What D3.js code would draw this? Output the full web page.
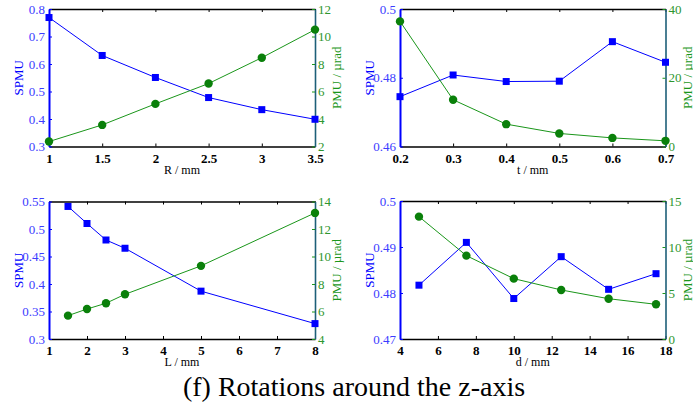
<!DOCTYPE html>
<html><head><meta charset="utf-8">
<script src="https://cdn.jsdelivr.net/npm/d3@7"></script>
<style>
html,body{margin:0;padding:0;background:#fff;}
svg{display:block;}
</style></head>
<body><svg id="c" width="693" height="406"></svg>
<script>
// Panel (a): R / mm
const rValues = [1, 1.5, 2, 2.5, 3, 3.5];
const rSPMU = [0.769, 0.631, 0.551, 0.478, 0.434, 0.399];
const rPMU = [2.36, 3.57, 5.10, 6.58, 8.46, 10.5];
const rXTicks = [1, 1.5, 2, 2.5, 3, 3.5];
const rLTicks = [0.3, 0.4, 0.5, 0.6, 0.7, 0.8];
const rRTicks = [2, 4, 6, 8, 10, 12];

// Panel (b): t / mm
const tValues = [0.2, 0.3, 0.4, 0.5, 0.6, 0.7];
const tSPMU = [0.4745, 0.4808, 0.4789, 0.4790, 0.4905, 0.4845];
const tPMU = [36.4, 13.6, 6.5, 3.8, 2.5, 1.65];
const tXTicks = [0.2, 0.3, 0.4, 0.5, 0.6, 0.7];
const tLTicks = [0.46, 0.48, 0.5];
const tRTicks = [0, 20, 40];

// Panel (c): L / mm
const lValues = [1.5, 2, 2.5, 3, 5, 8];
const lSPMU = [0.541, 0.510, 0.480, 0.465, 0.387, 0.328];
const lPMU = [5.70, 6.18, 6.60, 7.25, 9.32, 13.17];
const lXTicks = [1, 2, 3, 4, 5, 6, 7, 8];
const lLTicks = [0.3, 0.35, 0.4, 0.45, 0.5, 0.55];
const lRTicks = [4, 6, 8, 10, 12, 14];

// Panel (d): d / mm
const dValues = [5, 7.5, 10, 12.5, 15, 17.5];
const dSPMU = [0.4817, 0.4910, 0.4788, 0.4879, 0.4808, 0.4842];
const dPMU = [13.3, 9.06, 6.56, 5.33, 4.38, 3.77];
const dXTicks = [4, 6, 8, 10, 12, 14, 16, 18];
const dLTicks = [0.47, 0.48, 0.49, 0.5];
const dRTicks = [0, 5, 10, 15];

const caption = "(f) Rotations around the z-axis";

const FONT = "Liberation Serif";
const BLUE = "#0000ff", BLUE_TXT = "#3c3cff", GREEN = "#1a961a", GREEN_M = "#0a800a", GREEN_TXT = "#2e962e", RAXIS = "#1d5f78";

const svg = d3.select("#c");

function panel(o) {
  const g = svg.append("g");
  const x = d3.scaleLinear().domain(o.xDom).range([o.x0, o.x1]);
  const yl = d3.scaleLinear().domain(o.lDom).range([o.y1, o.y0]);
  const yr = d3.scaleLinear().domain(o.rDom).range([o.y1, o.y0]);

  const bottom = g.append("g").attr("transform", `translate(0,${o.y1})`)
    .call(d3.axisBottom(x).tickValues(o.xTicks).tickSizeInner(-3).tickSizeOuter(0).tickPadding(7).tickFormat(d3.format("")));
  bottom.select(".domain").attr("stroke", "#000").attr("stroke-width", 1.3);
  bottom.selectAll("text").attr("font-size", 13).attr("font-weight", "bold").attr("fill", "#000").style("font-family", FONT);
  const top = g.append("g").attr("transform", `translate(0,${o.y0})`)
    .call(d3.axisTop(x).tickValues(o.xTicks).tickSizeInner(-3).tickSizeOuter(0).tickFormat(""));
  top.select(".domain").attr("stroke", "#000").attr("stroke-width", 1.3);

  const left = g.append("g").attr("transform", `translate(${o.x0},0)`)
    .call(d3.axisLeft(yl).tickValues(o.lTicks).tickSizeInner(-3).tickSizeOuter(0).tickPadding(4).tickFormat(d3.format("")));
  left.select(".domain").attr("stroke", BLUE).attr("stroke-width", 2);
  left.selectAll(".tick line").attr("stroke", BLUE);
  left.selectAll("text").attr("font-size", 13).attr("fill", BLUE_TXT).style("font-family", FONT);

  const right = g.append("g").attr("transform", `translate(${o.x1},0)`)
    .call(d3.axisRight(yr).tickValues(o.rTicks).tickSizeInner(-3).tickSizeOuter(0).tickPadding(3).tickFormat(d3.format("")));
  right.select(".domain").attr("stroke", RAXIS).attr("stroke-width", 1.6);
  right.selectAll(".tick line").attr("stroke", GREEN);
  right.selectAll("text").attr("font-size", 13).attr("fill", GREEN_TXT).style("font-family", FONT);

  const pts = o.xs.map((v, i) => ({x: v, l: o.spmu[i], r: o.pmu[i]}));
  g.append("path").datum(pts).attr("fill", "none").attr("stroke", BLUE).attr("stroke-width", 1)
    .attr("d", d3.line().x(d => x(d.x)).y(d => yl(d.l)));
  g.append("path").datum(pts).attr("fill", "none").attr("stroke", GREEN).attr("stroke-width", 1)
    .attr("d", d3.line().x(d => x(d.x)).y(d => yr(d.r)));
  g.selectAll("rect.m").data(pts).join("rect").attr("class", "m")
    .attr("x", d => x(d.x) - 3.5).attr("y", d => yl(d.l) - 3.5).attr("width", 7).attr("height", 7).attr("fill", BLUE);
  g.selectAll("circle.m").data(pts).join("circle").attr("class", "m")
    .attr("cx", d => x(d.x)).attr("cy", d => yr(d.r)).attr("r", 4.2).attr("fill", GREEN_M);

  const ym = (o.y0 + o.y1) / 2;
  g.append("text").attr("transform", `translate(${o.x0 - 26},${ym}) rotate(-90)`)
    .attr("text-anchor", "middle").attr("font-size", 13).attr("fill", BLUE).style("font-family", FONT).text("SPMU");
  g.append("text").attr("transform", `translate(${o.x1 + 26},${ym}) rotate(-90)`)
    .attr("text-anchor", "middle").attr("font-size", 13).attr("fill", GREEN).style("font-family", FONT).text("PMU / \u00b5rad");
  g.append("text").attr("x", (o.x0 + o.x1) / 2).attr("y", o.y1 + 27)
    .attr("text-anchor", "middle").attr("font-size", 12).attr("fill", "#000").style("font-family", FONT).text(o.xLabel);
}

panel({x0: 49, x1: 315, y0: 9, y1: 146.5, xDom: [1, 3.5], lDom: [0.3, 0.8], rDom: [2, 12],
  xs: rValues, spmu: rSPMU, pmu: rPMU, xTicks: rXTicks, lTicks: rLTicks, rTicks: rRTicks, xLabel: "R / mm"});
panel({x0: 400, x1: 665.5, y0: 9, y1: 146.5, xDom: [0.2, 0.7], lDom: [0.46, 0.5], rDom: [0, 40],
  xs: tValues, spmu: tSPMU, pmu: tPMU, xTicks: tXTicks, lTicks: tLTicks, rTicks: tRTicks, xLabel: "t / mm"});
panel({x0: 49, x1: 315, y0: 201.5, y1: 339, xDom: [1, 8], lDom: [0.3, 0.55], rDom: [4, 14],
  xs: lValues, spmu: lSPMU, pmu: lPMU, xTicks: lXTicks, lTicks: lLTicks, rTicks: lRTicks, xLabel: "L / mm"});
panel({x0: 400, x1: 665.5, y0: 201, y1: 339, xDom: [4, 18], lDom: [0.47, 0.5], rDom: [0, 15],
  xs: dValues, spmu: dSPMU, pmu: dPMU, xTicks: dXTicks, lTicks: dLTicks, rTicks: dRTicks, xLabel: "d / mm"});

svg.append("text").attr("x", 354).attr("y", 396).attr("text-anchor", "middle")
  .attr("font-size", 28).attr("fill", "#000").style("font-family", FONT).text(caption);
</script></body></html>
